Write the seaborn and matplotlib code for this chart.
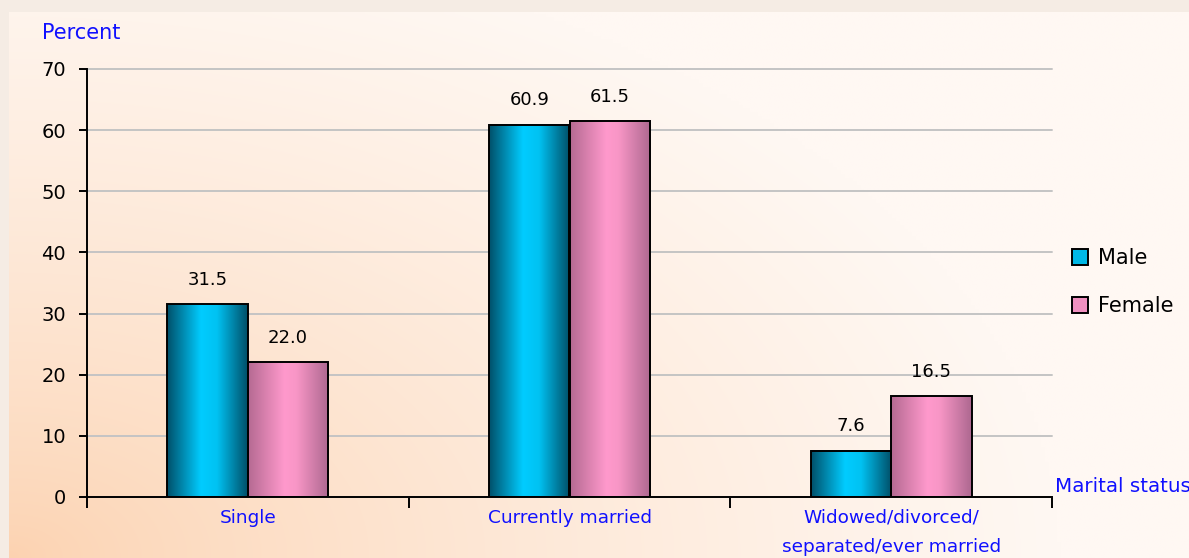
import numpy as np
import pandas as pd
import seaborn as sns
import matplotlib.pyplot as plt
from matplotlib.colors import LinearSegmentedColormap
from matplotlib.patches import Rectangle

# ─── Data ─────────────────────────────────────────────────────────────
categories = ["Single", "Currently married", "Widowed/divorced/\nseparated/ever married"]
sexes      = ["Male", "Female"]
male       = [31.5, 60.9, 7.6]
female     = [22.0, 61.5, 16.5]
yticks     = [0, 10, 20, 30, 40, 50, 60, 70]

df = pd.DataFrame({
    "status": categories * 2,
    "sex":    ["Male"] * 3 + ["Female"] * 3,
    "pct":    male + female,
})

blue_txt = "#1010ff"
male_cmap = LinearSegmentedColormap.from_list(
    "male", [(0, "#00506a"), (0.42, "#00ccff"), (0.62, "#00c2f2"), (1, "#004f68")])
female_cmap = LinearSegmentedColormap.from_list(
    "female", [(0, "#b56a92"), (0.45, "#ff99cc"), (0.6, "#f896c6"), (1, "#ad6890")])

sns.set_style("white")
plt.rcParams["font.family"] = ["DejaVu Sans"]

fig = plt.figure(figsize=(11.89, 5.58), dpi=100)
fig.patch.set_facecolor("#f5ece4")

# ─── Background panel with soft peach gradient ───────────────────────
W, H = 1189, 558
bg = fig.add_axes([9 / W, 0, 1 - 9 / W, 1 - 12 / H])
bg.set_axis_off()
xs = np.linspace(0, W - 9, 300)
ys = np.linspace(0, H - 12, 150)
X, Y = np.meshgrid(xs, ys)
d = np.clip(np.sqrt((X / 700) ** 2 + (Y / 420) ** 2) / 1.5, 0, 1) ** 0.75
peach = np.array([252, 210, 176]) / 255
light = np.array([255, 248, 243]) / 255
img = peach[None, None, :] + (light - peach)[None, None, :] * d[..., None]
bg.imshow(img, origin="lower", aspect="auto", extent=[0, 1, 0, 1], interpolation="bilinear")
bg.set_xlim(0, 1)
bg.set_ylim(0, 1)

# ─── Main axes ───────────────────────────────────────────────────────
ax = fig.add_axes([87 / W, 61 / H, (1052 - 87) / W, (497 - 69) / H])
ax.set_facecolor("none")

sns.barplot(data=df, x="status", y="pct", hue="sex", hue_order=sexes,
            order=categories, palette=["#00ccff", "#ff99cc"], width=0.5,
            gap=0, legend=False, ax=ax, zorder=3, err_kws={"linewidth": 0})

grad = np.linspace(0, 1, 200)[None, :]
for cont, cmap in zip(ax.containers, [male_cmap, female_cmap]):
    for bar in cont:
        x0, w, h = bar.get_x(), bar.get_width(), bar.get_height()
        ax.imshow(grad, cmap=cmap, aspect="auto", extent=[x0, x0 + w, 0, h],
                  zorder=2.5, interpolation="bicubic")
        bar.set_facecolor("none")
        bar.set_edgecolor("black")
        bar.set_linewidth(1.4)
        bar.set_zorder(3)
    ax.bar_label(cont, fmt="%.1f", padding=11, fontsize=13, color="black")

ax.set_xlim(-0.5, 2.5)
ax.set_ylim(0, 70)
ax.set_yticks(yticks)
ax.yaxis.grid(True, color="#c4c4c4", linewidth=1.4, zorder=0)
for gl in ax.get_ygridlines():
    gl.set_clip_on(False)
ax.set_axisbelow(True)
ax.xaxis.grid(False)

for s in ["top", "right"]:
    ax.spines[s].set_visible(False)
for s in ["left", "bottom"]:
    ax.spines[s].set_color("black")
    ax.spines[s].set_linewidth(1.4)
    ax.spines[s].set_zorder(4)

ax.tick_params(axis="y", which="major", left=True, length=6, width=1.4,
               pad=9, labelsize=14, labelcolor="black", color="black")
ax.set_xticks(range(len(categories)))
ax.set_xticklabels(categories, color=blue_txt, fontsize=13.3, linespacing=1.8)
ax.set_xticks([-0.5, 0.5, 1.5, 2.5], minor=True)
ax.tick_params(axis="x", which="major", length=0, pad=8.5)
ax.tick_params(axis="x", which="minor", bottom=True, length=8, width=1.4, color="black")
for lbl in ax.get_xticklabels():
    lbl.set_verticalalignment("top")
ax.set_xlabel("")
ax.set_ylabel("")

fig.text(42 / W, 1 - 33 / H, "Percent", color=blue_txt, fontsize=15,
         ha="left", va="center")
fig.text(1055 / W, 1 - 487 / H, "Marital status", color=blue_txt, fontsize=14.3,
         ha="left", va="center")

handles = [Rectangle((0, 0), 1, 1, facecolor="#00b8e6", edgecolor="black", linewidth=1.4),
           Rectangle((0, 0), 1, 1, facecolor="#f090c0", edgecolor="black", linewidth=1.4)]
fig.legend(handles, sexes, loc="center left", bbox_to_anchor=(1053 / W, 1 - 282 / H),
           frameon=False, fontsize=15, handlelength=0.8, handleheight=0.8,
           handletextpad=0.45, labelspacing=1.35, labelcolor="black")

fig.savefig("out.png", dpi=100, facecolor=fig.get_facecolor())
